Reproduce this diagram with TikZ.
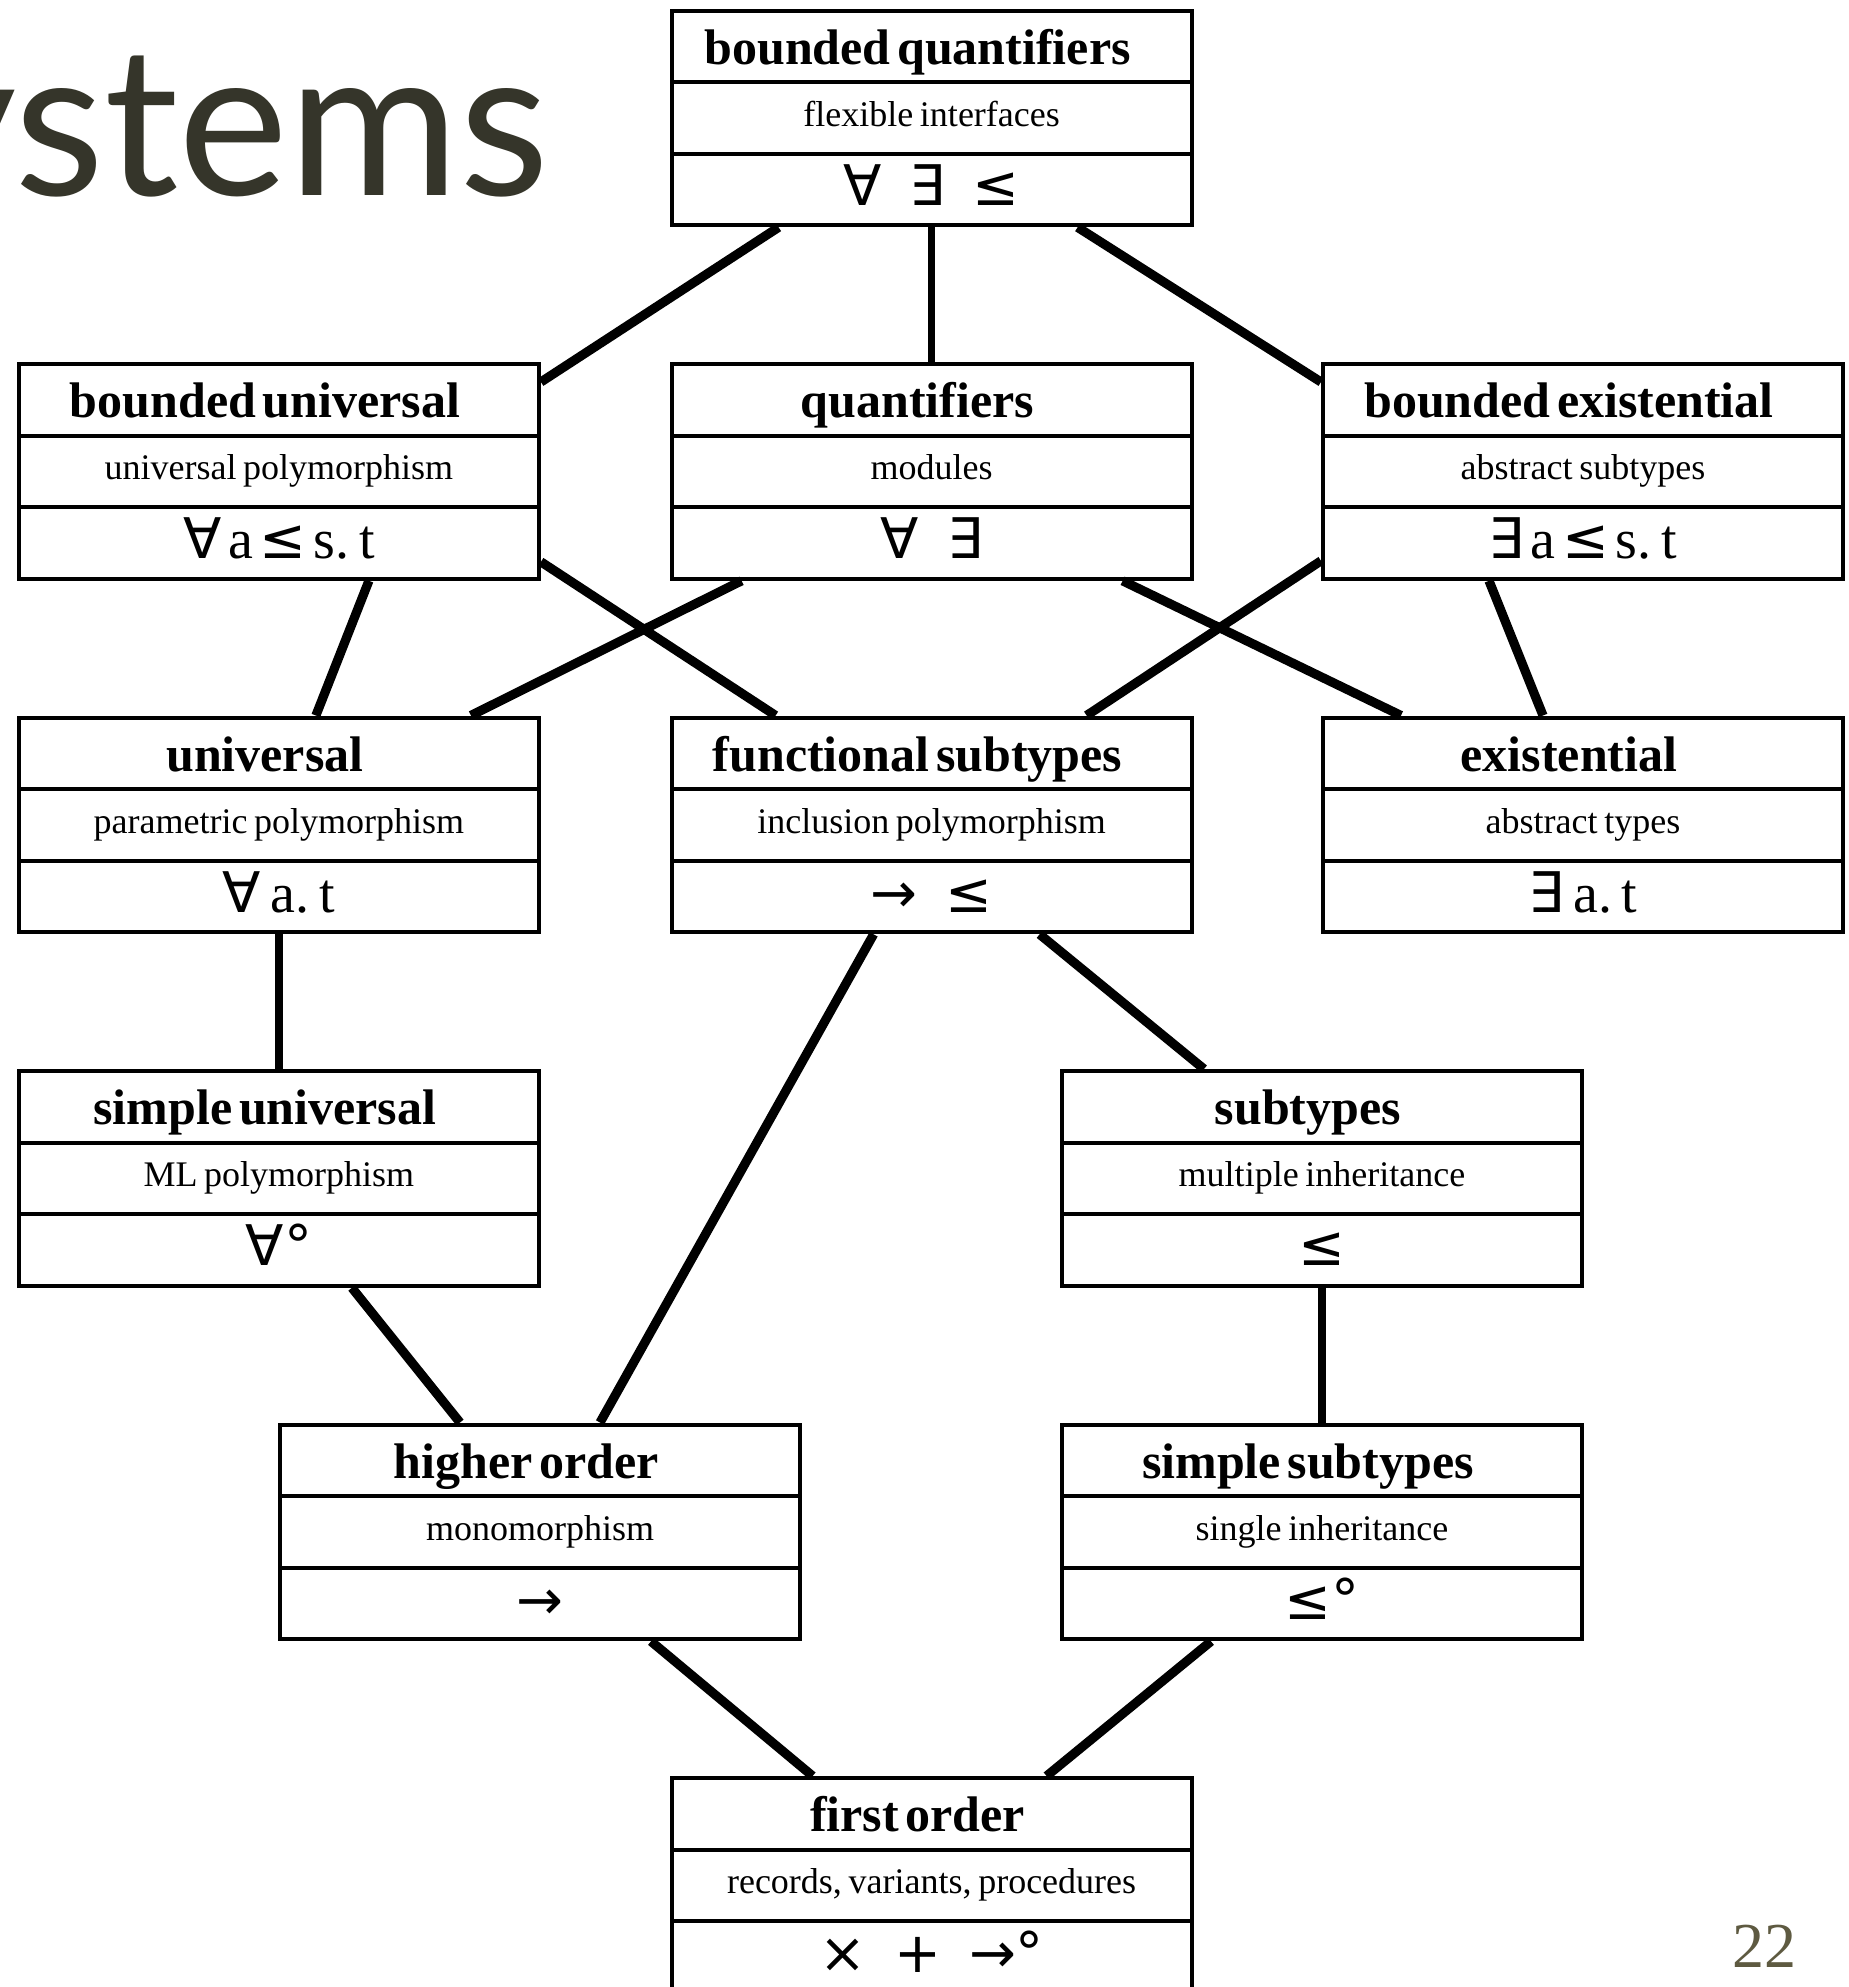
\documentclass[tikz,border=0pt]{standalone}
\usepackage{fontspec}
\setmainfont{Liberation Serif}
\newfontfamily\symf{DejaVu Sans}
\newfontfamily\slidef{Lato}
\usetikzlibrary{shapes.multipart,calc}
\definecolor{slideink}{HTML}{35352A}
\definecolor{pagenum}{HTML}{5E5A41}
\newcommand\boxhead[1]{\fontsize{25}{30}\selectfont\rule[-8pt]{0pt}{33.8pt}\hbox to 0pt{\hss\bfseries #1\hskip 14pt\hss}}
\newcommand\boxdesc[1]{\fontsize{18}{22}\selectfont\rule[-12.8pt]{0pt}{33.8pt}#1}
\newcommand\boxsym[1]{\fontsize{28}{32}\selectfont\rule[-9pt]{0pt}{33.8pt}#1}
\newcommand\opsym[1]{{\symf #1}}

\begin{document}
\begin{tikzpicture}[x=0.5pt,y=-0.5pt,
  tbox/.style={draw,line width=2pt,fill=white,rectangle split,rectangle split parts=3,
    text width=260pt,align=center,inner xsep=0pt,inner ysep=0pt},
  link/.style={line width=4.6pt},
  vlink/.style={line width=3.8pt}]
  \path[use as bounding box,fill=white] (0,0) rectangle (1848,1987);
  \node[anchor=base east,text=slideink,font=\slidef\fontsize{104}{104}\selectfont,inner sep=0] (title) at (550,195) {ystems};
  \node[anchor=base east,text=pagenum,font=\fontsize{32}{32}\selectfont,inner sep=0] (page) at (1797,1967) {22};

  \node[tbox] (bq) at (931.6,117.9) {\boxhead{bounded quantifiers}\nodepart{two}\boxdesc{flexible interfaces}\nodepart{three}\boxsym{\opsym{∀}\enspace\opsym{∃}\enspace\opsym{≤}}};
  \node[tbox] (bu) at (278.9,471.4) {\boxhead{bounded universal}\nodepart{two}\boxdesc{universal polymorphism}\nodepart{three}\boxsym{\opsym{∀} a \opsym{≤} s. t}};
  \node[tbox] (q) at (931.6,471.4) {\boxhead{quantifiers}\nodepart{two}\boxdesc{modules}\nodepart{three}\boxsym{\opsym{∀}\enspace\opsym{∃}}};
  \node[tbox] (be) at (1583,471.4) {\boxhead{bounded existential}\nodepart{two}\boxdesc{abstract subtypes}\nodepart{three}\boxsym{\opsym{∃} a \opsym{≤} s. t}};
  \node[tbox] (univ) at (278.9,824.9) {\boxhead{universal}\nodepart{two}\boxdesc{parametric polymorphism}\nodepart{three}\boxsym{\opsym{∀}\,a. t}};
  \node[tbox] (fs) at (931.6,824.9) {\boxhead{functional subtypes}\nodepart{two}\boxdesc{inclusion polymorphism}\nodepart{three}\boxsym{\opsym{→}\enspace\opsym{≤}}};
  \node[tbox] (ex) at (1583,824.9) {\boxhead{existential}\nodepart{two}\boxdesc{abstract types}\nodepart{three}\boxsym{\opsym{∃}\,a. t}};
  \node[tbox] (su) at (278.9,1178.4) {\boxhead{simple universal}\nodepart{two}\boxdesc{ML polymorphism}\nodepart{three}\boxsym{\opsym{∀°}}};
  \node[tbox] (sub) at (1322,1178.4) {\boxhead{subtypes}\nodepart{two}\boxdesc{multiple inheritance}\nodepart{three}\boxsym{\opsym{≤}}};
  \node[tbox] (ho) at (540,1531.9) {\boxhead{higher order}\nodepart{two}\boxdesc{monomorphism}\nodepart{three}\boxsym{\opsym{→}}};
  \node[tbox] (ss) at (1322,1531.9) {\boxhead{simple subtypes}\nodepart{two}\boxdesc{single inheritance}\nodepart{three}\boxsym{\opsym{≤°}}};
  \node[tbox] (fo) at (931.6,1885.4) {\boxhead{first order}\nodepart{two}\boxdesc{records, variants, procedures}\nodepart{three}\boxsym{\opsym{×}\enspace\opsym{+}\enspace\opsym{→°}}};

  \draw[link] ($(bq.south)+(-153,0)$) -- ($(bu.north east)+(0,20)$);
  \draw[vlink] (bq.south) -- (q.north);
  \draw[link] ($(bq.south)+(146,0)$) -- ($(be.north west)+(0,20)$);
  \draw[link] ($(bu.south)+(90,0)$) -- ($(univ.north)+(37,0)$);
  \draw[link] ($(bu.south east)+(0,-19)$) -- ($(fs.north)+(-156,0)$);
  \draw[link] ($(q.south)+(-190,0)$) -- ($(univ.north)+(192,0)$);
  \draw[link] ($(q.south)+(191,0)$) -- ($(ex.north)+(-182,0)$);
  \draw[link] ($(be.south west)+(0,-20)$) -- ($(fs.north)+(155,0)$);
  \draw[link] ($(be.south)+(-94,0)$) -- ($(ex.north)+(-40,0)$);
  \draw[vlink] (univ.south) -- (su.north);
  \draw[link] ($(fs.south)+(-58,0)$) -- ($(ho.north)+(60,0)$);
  \draw[link] ($(fs.south)+(108,0)$) -- ($(sub.north)+(-118,0)$);
  \draw[link] ($(su.south)+(73,0)$) -- ($(ho.north)+(-80,0)$);
  \draw[vlink] (sub.south) -- (ss.north);
  \draw[link] ($(ho.south)+(111,0)$) -- ($(fo.north)+(-119,0)$);
  \draw[link] ($(ss.south)+(-111,0)$) -- ($(fo.north)+(115,0)$);
\end{tikzpicture}
\end{document}
